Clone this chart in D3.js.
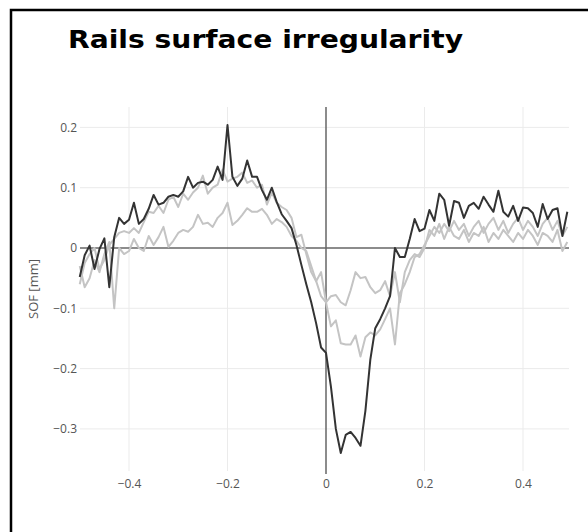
<!DOCTYPE html>
<html>
<head>
<meta charset="utf-8">
<script src="https://cdn.jsdelivr.net/npm/d3@7/dist/d3.min.js"></script>
<style>
  body { margin: 0; background: #fff; }
  svg { display: block; }
</style>
</head>
<body>
<div id="chartDiv"></div>
<script>
// position along the rail [m], step 0.01
const xs = d3.range(100).map(i => -0.5 + i * 0.01);

// dark series
const dark = [
  -0.048, -0.012, 0.004, -0.035, -0.002, 0.016, -0.065, 0.018, 0.05, 0.04,
  0.047, 0.075, 0.04, 0.048, 0.065, 0.088, 0.072, 0.075, 0.085, 0.088,
  0.085, 0.094, 0.118, 0.1, 0.108, 0.11, 0.105, 0.113, 0.135, 0.113,
  0.204, 0.118, 0.103, 0.115, 0.145, 0.118, 0.118, 0.096, 0.08, 0.1,
  0.076, 0.056, 0.045, 0.033, 0.005, -0.028, -0.06, -0.09, -0.125, -0.165,
  -0.174, -0.23, -0.3, -0.34, -0.31, -0.305, -0.315, -0.328, -0.27, -0.185,
  -0.133, -0.118, -0.1, -0.08, 0.0, -0.015, -0.015, 0.015, 0.048, 0.028,
  0.032, 0.063, 0.045, 0.09, 0.08, 0.037, 0.078, 0.075, 0.05, 0.07,
  0.075, 0.065, 0.085, 0.072, 0.06, 0.095, 0.06, 0.052, 0.07, 0.045,
  0.067, 0.066, 0.058, 0.035, 0.073, 0.048, 0.063, 0.066, 0.02, 0.06
];

// light series, deeper dip
const greyA = [
  -0.06, -0.025, -0.01, 0.0, -0.035, -0.02, 0.005, 0.015, 0.025, 0.028,
  0.025, 0.033, 0.025, 0.043, 0.06, 0.058, 0.07, 0.058, 0.08, 0.085,
  0.068, 0.09, 0.08, 0.092, 0.1, 0.12, 0.09, 0.1, 0.105, 0.13,
  0.11, 0.115, 0.118, 0.125, 0.108, 0.112, 0.1, 0.105, 0.072, 0.092,
  0.075, 0.068, 0.063, 0.05, 0.018, 0.022, -0.01, -0.04, -0.055, -0.08,
  -0.09, -0.13, -0.12, -0.158, -0.16, -0.16, -0.145, -0.18, -0.148, -0.14,
  -0.145, -0.135, -0.118, -0.1, -0.16, -0.075, -0.06, -0.04, -0.015, -0.01,
  0.005, 0.02, 0.035, 0.025, 0.04, 0.028, 0.045, 0.03, 0.04, 0.02,
  0.035, 0.045, 0.025, 0.04, 0.05, 0.03, 0.045, 0.025, 0.04, 0.05,
  0.03, 0.045, 0.035, 0.02, 0.04, 0.05, 0.03, 0.045, 0.02, 0.035
];

// light series, shallow dip
const greyB = [
  -0.03, -0.065, -0.05, -0.02, -0.04, -0.01, 0.01, -0.1, 0.0, -0.01,
  -0.005, 0.015, 0.0, -0.005, 0.02, 0.005, 0.018, 0.035, 0.002, 0.012,
  0.025, 0.03, 0.027, 0.035, 0.055, 0.04, 0.042, 0.035, 0.05, 0.058,
  0.075, 0.038, 0.045, 0.055, 0.066, 0.06, 0.06, 0.065, 0.055, 0.04,
  0.048, 0.043, 0.035, 0.02, 0.012, 0.0, -0.005, -0.03, -0.055, -0.04,
  -0.09, -0.08, -0.078, -0.09, -0.095, -0.07, -0.04, -0.05, -0.048, -0.065,
  -0.075, -0.07, -0.055, -0.08, -0.04, -0.09, -0.04, -0.02, -0.01, -0.015,
  0.0, 0.03, 0.02, 0.04, 0.015, 0.035, 0.02, 0.015, 0.03, 0.01,
  0.025, 0.02, 0.035, 0.01, 0.025, 0.015, 0.03, 0.02, 0.01, 0.025,
  0.015, 0.03, 0.02, 0.005, 0.025, 0.02, 0.01, 0.03, -0.005, 0.01
];

const xTicks = [-0.4, -0.2, 0, 0.2, 0.4];
const yTicks = [-0.3, -0.2, -0.1, 0, 0.1, 0.2];

const width = 588, height = 532;
const plot = { left: 80, right: 569, top: 107, bottom: 471 };

const svg = d3.select("#chartDiv")
  .append("svg")
  .attr("width", width)
  .attr("height", height);

// frame (right and bottom edges fall outside the picture)
svg.append("rect")
  .attr("x", 11).attr("y", 10)
  .attr("width", 600).attr("height", 560)
  .attr("fill", "none")
  .attr("stroke", "#000")
  .attr("stroke-width", 2.5);

svg.append("text")
  .attr("x", 68).attr("y", 48)
  .attr("font-family", "DejaVu Sans, Verdana, sans-serif")
  .attr("font-weight", "bold")
  .attr("font-size", 24)
  .attr("textLength", 395)
  .attr("lengthAdjust", "spacingAndGlyphs")
  .attr("fill", "#000")
  .text("Rails surface irregularity");

const x = d3.scaleLinear().domain([-0.5, 0.5]).range([79.75, 572.25]);
const y = d3.scaleLinear().domain([0, 0.1]).range([248, 187.7]);

const fmt = d => d === 0 ? "0" : d3.format(".1f")(d).replace("-", "\u2212");

// grid
svg.append("g")
  .selectAll("line")
  .data(xTicks.filter(d => d !== 0))
  .join("line")
  .attr("x1", d => x(d)).attr("x2", d => x(d))
  .attr("y1", plot.top).attr("y2", plot.bottom)
  .attr("stroke", "#ebebeb").attr("stroke-width", 1);

svg.append("g")
  .selectAll("line")
  .data(yTicks.filter(d => d !== 0))
  .join("line")
  .attr("x1", plot.left).attr("x2", plot.right)
  .attr("y1", d => y(d)).attr("y2", d => y(d))
  .attr("stroke", "#ebebeb").attr("stroke-width", 1);

// axes (labels only, plotly style)
const xAxis = svg.append("g")
  .attr("transform", `translate(0,${plot.bottom})`)
  .call(d3.axisBottom(x).tickValues(xTicks).tickFormat(fmt).tickSize(0).tickPadding(8));
const yAxis = svg.append("g")
  .attr("transform", `translate(${plot.left},0)`)
  .call(d3.axisLeft(y).tickValues(yTicks).tickFormat(fmt).tickSize(0).tickPadding(3));
[xAxis, yAxis].forEach(a => {
  a.select(".domain").remove();
  a.selectAll("text")
    .attr("font-family", "Open Sans, sans-serif")
    .attr("font-size", 12)
    .attr("fill", "#555");
});

svg.append("text")
  .attr("transform", `translate(38,${(plot.top + plot.bottom) / 2}) rotate(-90)`)
  .attr("text-anchor", "middle")
  .attr("font-family", "Open Sans, sans-serif")
  .attr("font-size", 13)
  .attr("fill", "#555")
  .text("SOF [mm]");

// zero lines
svg.append("line")
  .attr("x1", plot.left).attr("x2", plot.right)
  .attr("y1", y(0)).attr("y2", y(0))
  .attr("stroke", "#666").attr("stroke-width", 1.5);
svg.append("line")
  .attr("x1", x(0)).attr("x2", x(0))
  .attr("y1", plot.top).attr("y2", plot.bottom + 3)
  .attr("stroke", "#666").attr("stroke-width", 1.5);

const line = d3.line()
  .x((d, i) => x(xs[i]))
  .y(d => y(d));

const series = [
  { values: greyB, color: "#c4c4c4" },
  { values: greyA, color: "#c4c4c4" },
  { values: dark, color: "#333" }
];

svg.append("g")
  .selectAll("path")
  .data(series)
  .join("path")
  .attr("d", d => line(d.values))
  .attr("fill", "none")
  .attr("stroke", d => d.color)
  .attr("stroke-width", 2)
  .attr("stroke-linejoin", "round");
</script>
</body>
</html>
